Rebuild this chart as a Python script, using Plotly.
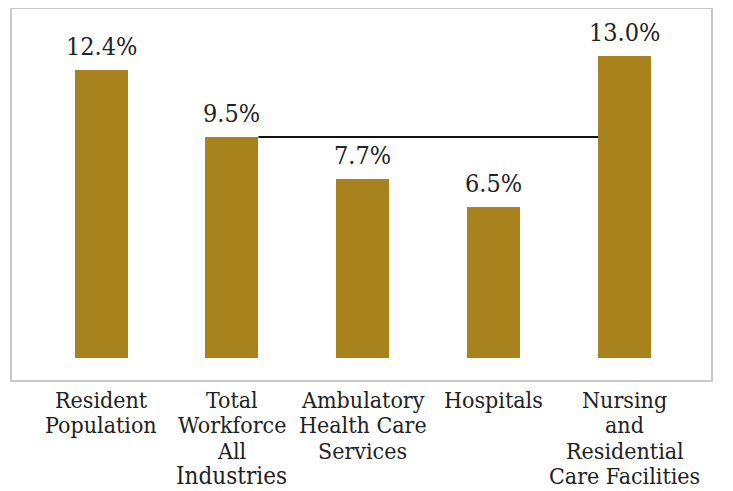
import plotly.graph_objects as go

category_lines = [
    ["Resident", "Population"],
    ["Total", "Workforce", "All", "Industries"],
    ["Ambulatory", "Health Care", "Services"],
    ["Hospitals"],
    ["Nursing", "and", "Residential", "Care Facilities"],
]
values = [12.4, 9.5, 7.7, 6.5, 13.0]
value_labels = ["12.4%", "9.5%", "7.7%", "6.5%", "13.0%"]

SERIF = "DejaVu Serif Condensed, DejaVu Serif, serif"
x_pos = list(range(len(values)))
bar_width = 0.405
ref_value = values[1]

fig = go.Figure()
fig.add_trace(go.Bar(
    x=x_pos, y=values, width=bar_width,
    marker=dict(color="#A8821C", line=dict(width=0)),
    showlegend=False, hoverinfo="skip",
))
fig.add_trace(go.Scatter(
    x=[x_pos[1] + bar_width / 2, x_pos[4] - bar_width / 2],
    y=[ref_value, ref_value],
    mode="lines", line=dict(color="#111", width=2),
    showlegend=False, hoverinfo="skip",
))
for xp, v, t in zip(x_pos, values, value_labels):
    fig.add_annotation(
        x=xp, y=v, text=t, showarrow=False, yanchor="bottom",
        yshift=7, font=dict(family=SERIF, size=25, color="#222"),
    )
# category labels (tight line spacing like the original)
for xp, lines in zip(x_pos, category_lines):
    for k, line in enumerate(lines):
        size = 24 if line == "Industries" else 23
        fig.add_annotation(
            x=xp, xref="x", y=0, yref="paper", text=line, showarrow=False,
            yanchor="middle", yshift=-(20 + k * 25.3),
            font=dict(family=SERIF, size=size, color="#222"),
        )

fig.update_layout(
    width=725, height=483,
    margin=dict(l=4, r=22, t=1, b=111),
    paper_bgcolor="white", plot_bgcolor="white",
    font=dict(family=SERIF, size=23, color="#222"),
    bargap=0,
    xaxis=dict(
        range=[-0.68, 4.66], tickvals=x_pos, showticklabels=False,
        showgrid=False, zeroline=False, ticks="", automargin=False,
        showline=True, mirror=True, linecolor="#c8c8c8", linewidth=2,
        fixedrange=True,
    ),
    yaxis=dict(
        range=[-0.94, 15.0], showticklabels=False, automargin=False,
        showgrid=False, zeroline=False, ticks="",
        showline=True, mirror=True, linecolor="#c8c8c8", linewidth=2,
        fixedrange=True,
    ),
)

fig.write_html("out.html")
